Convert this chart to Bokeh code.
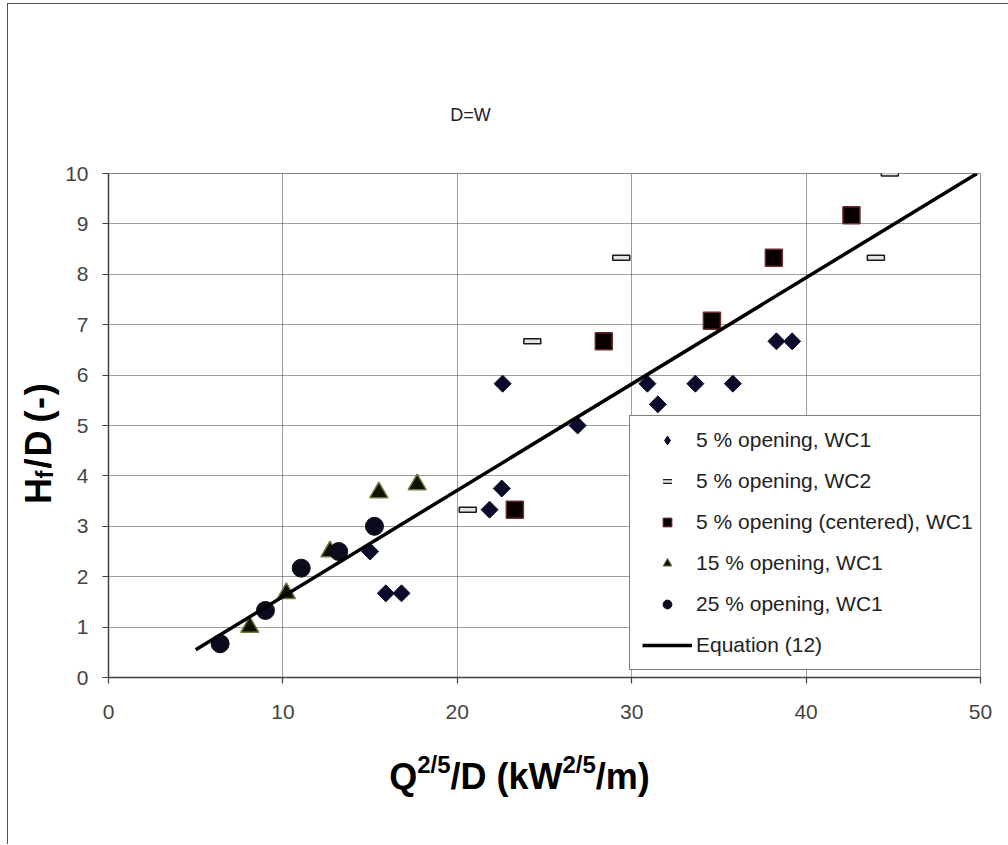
import numpy as np
from bokeh.plotting import figure
from bokeh.layouts import column, row
from bokeh.models import Range1d, Legend, LegendItem, Label, FixedTicker
from bokeh.embed import file_html
from bokeh.resources import INLINE

# ---------------- data ----------------
x_ticks = [0, 10, 20, 30, 40, 50]
y_ticks = [0, 1, 2, 3, 4, 5, 6, 7, 8, 9, 10]

wc1_5_x = [15.0, 15.9, 16.8, 21.85, 22.55, 22.6, 26.9, 30.9, 31.5, 33.65, 35.8, 38.3, 39.2]
wc1_5_y = [2.5, 1.67, 1.67, 3.33, 3.75, 5.83, 5.0, 5.83, 5.42, 5.83, 5.83, 6.67, 6.67]

wc2_5_x = [20.6, 24.3, 29.4, 44.0, 44.8]
wc2_5_y = [3.33, 6.67, 8.33, 8.33, 10.0]

centered_x = [23.3, 28.4, 34.6, 38.15, 42.6]
centered_y = [3.33, 6.67, 7.08, 8.33, 9.17]

wc1_15_x = [8.1, 10.2, 12.7, 15.5, 17.7]
wc1_15_y = [1.0, 1.67, 2.5, 3.67, 3.83]

wc1_25_x = [6.4, 9.0, 11.05, 13.2, 15.25]
wc1_25_y = [0.67, 1.33, 2.17, 2.5, 3.0]

eq_x = [5.0, 49.8]
eq_y = [0.55, 10.0]

labels = ["5 % opening, WC1", "5 % opening, WC2", "5 % opening (centered), WC1",
          "15 % opening, WC1", "25 % opening, WC1", "Equation (12)"]
subtitle = "D=W"

FONT = "Liberation Sans"
W = 1000
TOP_H, MAIN_H, BOT_H, LEFT_W = 130, 593, 117, 52


def text_fig(w, h):
    f = figure(width=w, height=h, output_backend="svg", toolbar_location=None,
               x_range=Range1d(0, w), y_range=Range1d(h, 0),
               x_axis_type=None, y_axis_type=None, min_border=0)
    f.outline_line_color = None
    f.background_fill_color = "white"
    f.border_fill_color = "white"
    f.xgrid.visible = False
    f.ygrid.visible = False
    return f


# ---------------- main figure ----------------
p = figure(width=W - LEFT_W, height=MAIN_H, output_backend="svg", toolbar_location=None,
           x_range=Range1d(0, 50), y_range=Range1d(0, 10),
           min_border_left=48, min_border_right=28, min_border_top=39, min_border_bottom=50)
p.background_fill_color = "white"
p.border_fill_color = "white"
p.outline_line_color = "#8a8a8a"
p.outline_line_width = 1

p.xaxis.ticker = FixedTicker(ticks=x_ticks)
p.yaxis.ticker = FixedTicker(ticks=y_ticks)
for ax in (p.xaxis, p.yaxis):
    ax.axis_line_color = "#404040"
    ax.axis_line_width = 1.5
    ax.major_tick_line_color = "#404040"
    ax.major_tick_line_width = 1.2
    ax.major_tick_out = 6
    ax.major_tick_in = 0
    ax.minor_tick_out = 0
    ax.minor_tick_in = 0
    ax.major_label_text_font = FONT
    ax.major_label_text_font_size = "21px"
    ax.major_label_text_color = "#444444"
p.xaxis.major_label_standoff = 21
p.yaxis.major_label_standoff = 14

for g in (p.xgrid, p.ygrid):
    g.grid_line_color = "#3c3c3c"
    g.grid_line_dash = "1 1"
    g.grid_line_width = 1

r_d = p.scatter(wc1_5_x, wc1_5_y, marker="square", angle=np.pi / 4, size=12,
                fill_color="#0b0b2b", line_color="#0b0b2b")
r_w = p.rect(wc2_5_x, wc2_5_y, width=17, height=5, width_units="screen", height_units="screen",
             fill_color="#e4e4e4", line_color="#1a1a1a", line_width=1.5)
r_s = p.scatter(centered_x, centered_y, marker="square", size=17,
                fill_color="#080000", line_color="#6b2a2a", line_width=1.5)
r_t = p.scatter(wc1_15_x, wc1_15_y, marker="triangle", size=18,
                fill_color="#111100", line_color="#6b7b3a", line_width=1.5)
r_c = p.scatter(wc1_25_x, wc1_25_y, marker="circle", size=18,
                fill_color="#0b0b1e", line_color="#0b0b1e")
r_l = p.line(eq_x, eq_y, line_width=3.5, line_color="black")

# legend-only renderers (small glyphs, as in the original); one NaN point each
nan = [float("nan")]
l_d = p.scatter(nan, nan, marker="diamond", fill_color="#0b0b2b", line_color="#0b0b2b")
l_w1 = p.scatter(nan, nan, marker="dash", line_color="#1a1a1a", line_width=5)
l_w2 = p.scatter(nan, nan, marker="dash", line_color="#e4e4e4", line_width=2.5)
l_s = p.scatter(nan, nan, marker="square", fill_color="#080000", line_color="#6b2a2a")
l_t = p.scatter(nan, nan, marker="triangle", fill_color="#111100", line_color="#6b7b3a")
l_c = p.scatter(nan, nan, marker="circle", fill_color="#0b0b1e", line_color="#0b0b1e")

legend = Legend(items=[
    LegendItem(label=labels[0], renderers=[l_d]),
    LegendItem(label=labels[1], renderers=[l_w1, l_w2]),
    LegendItem(label=labels[2], renderers=[l_s]),
    LegendItem(label=labels[3], renderers=[l_t]),
    LegendItem(label=labels[4], renderers=[l_c]),
    LegendItem(label=labels[5], renderers=[r_l]),
], location=(521, 7))
legend.margin = 0
legend.padding = 12
legend.spacing = 17
legend.glyph_width = 50
legend.glyph_height = 22
legend.label_height = 22
legend.label_standoff = 4
legend.label_text_font = FONT
legend.label_text_font_size = "21px"
legend.label_text_color = "#222222"
legend.border_line_color = "black"
legend.border_line_width = 1
legend.background_fill_color = "white"
legend.background_fill_alpha = 1
p.add_layout(legend, "center")

# ---------------- text panels ----------------
EM = {"Q": 0.778, "2": 0.556, "/": 0.278, "5": 0.556, "D": 0.722, " ": 0.278, "(": 0.333,
      "k": 0.556, "W": 0.944, "m": 0.889, ")": 0.333, "H": 0.722, "f": 0.333, "-": 0.333}


def wid(s, size):
    return sum(EM[c] for c in s) * size


F, FS = 36, 24

top = text_fig(W, TOP_H)
top.add_layout(Label(x=462, y=110, text=subtitle, text_font=FONT, text_font_size="18px",
                     text_color="#222222", text_align="center", text_baseline="middle"))

bot = text_fig(W, BOT_H)
xparts = [("Q", F, 0), ("2/5", FS, 12), ("/D (kW", F, 0), ("2/5", FS, 12), ("/m)", F, 0)]
tot = sum(wid(t, s) for t, s, _ in xparts)
cur = 511 - tot / 2
for t, s, up in xparts:
    bot.add_layout(Label(x=cur, y=49 - up, text=t, text_font=FONT, text_font_size=f"{s}px",
                         text_font_style="bold", text_color="black",
                         text_align="left", text_baseline="alphabetic"))
    cur += wid(t, s)

# y-axis title "H_f/D (-)", rotated, built from pieces (subscript f)
left = text_fig(LEFT_W, MAIN_H)
GAP = 4
yparts = [("H", F, 0, 0), ("f", FS, 6, 0), ("/", F, 0, 0), ("D", F, 0, 0),
          ("(", F, 0, wid(" ", F)), ("-", F, 0, 0), (")", F, 0, 0)]
tot = sum(wid(t, s) + pre for t, s, _, pre in yparts) + GAP * (len(yparts) - 1)
cur = 319 + tot / 2
for t, s, down, pre in yparts:
    cur -= pre
    left.add_layout(Label(x=29.5 + down, y=cur, text=t, text_font=FONT, text_font_size=f"{s}px",
                          text_font_style="bold", text_color="black",
                          text_align="left", text_baseline="alphabetic", angle=np.pi / 2))
    cur -= wid(t, s) + GAP

layout = column(top, row(left, p), bot)
layout.styles = {"margin-left": "7px", "margin-top": "3px",
                 "border-left": "1px solid #555555", "border-top": "1px solid #555555"}

open("out.html", "w").write(file_html(layout, INLINE))
